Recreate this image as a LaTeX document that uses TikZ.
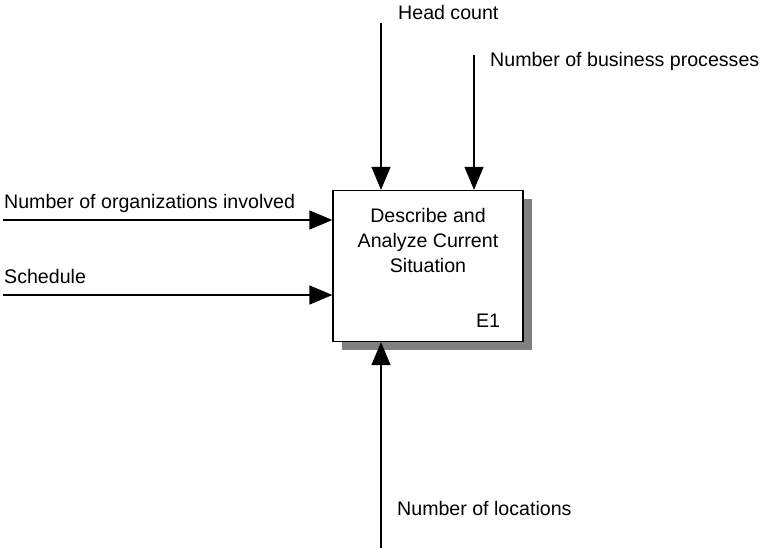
\documentclass[tikz,border=0pt]{standalone}
\usepackage{fontspec}
\setmainfont{Liberation Sans}
\usetikzlibrary{arrows.meta}
\begin{document}
\begin{tikzpicture}[x=1pt,y=-1pt,
  flow/.style={line width=1.3pt,-{Triangle[length=23pt,width=19pt]}},
  lbl/.style={anchor=base west,inner sep=0pt,font=\fontsize{19.6}{24}\selectfont},
  activity/.style={draw,line width=1.3pt,fill=white,minimum width=190pt,minimum height=151pt,inner sep=0pt}]
\path[use as bounding box] (0,0) rectangle (764,548);
% drop shadow behind the activity box
\fill[black!50] (342,199) rectangle (532,350);
\node[activity] (act) at (428,266) {};
\node[align=center,font=\fontsize{19.6}{25}\selectfont,inner sep=0pt,anchor=north] (title) at (428,208.5)
  {Describe and\\Analyze Current\\Situation};
\node[inner sep=0pt,anchor=base,font=\fontsize{19.6}{24}\selectfont] (code) at (488,328) {E1};
% labels
\node[lbl] (lhead) at (398,20) {Head count};
\node[lbl] (lbus) at (490,67) {Number of business processes};
\node[lbl] (lorg) at (4,209) {Number of organizations involved};
\node[lbl] (lsch) at (4,284) {Schedule};
\node[lbl] (lloc) at (397,515) {Number of locations};
% free ends of the connectors
\coordinate (shead) at (381,23);
\coordinate (sbus) at (474,55);
\coordinate (sorg) at (3,220);
\coordinate (ssch) at (3,295);
\coordinate (sloc) at (381,548);
% connectors
\draw[flow] (shead) -- (shead |- act.north);
\draw[flow] (sbus) -- (sbus |- act.north);
\draw[flow] (sorg) -- (sorg -| act.west);
\draw[flow] (ssch) -- (ssch -| act.west);
\draw[flow] (sloc) -- (sloc |- act.south);
\end{tikzpicture}
\end{document}
